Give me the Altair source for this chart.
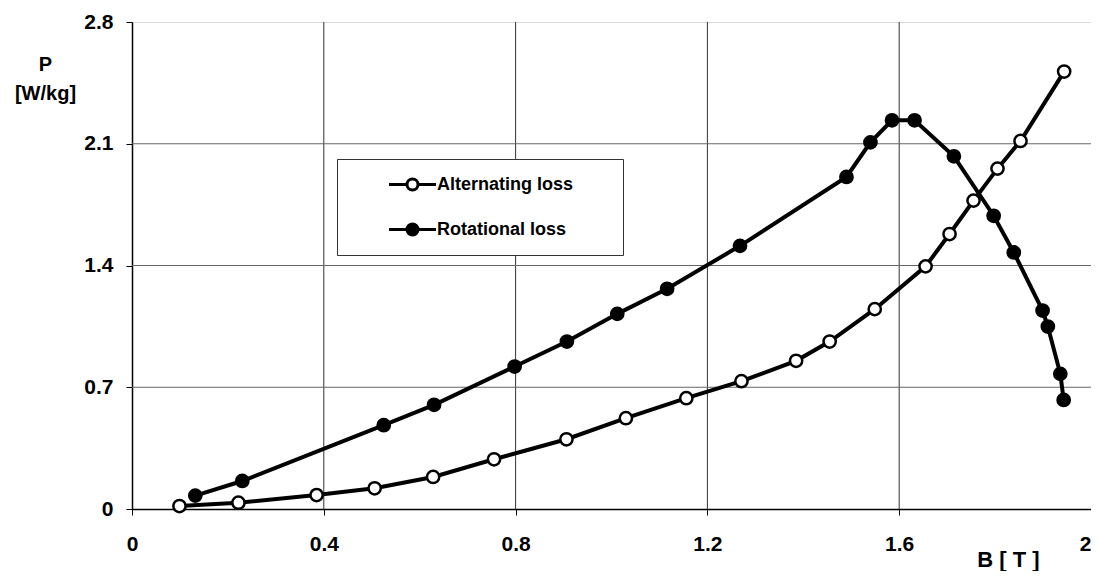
import altair as alt
import pandas as pd

# --- data ---
series_names = ["Alternating loss", "Rotational loss"]

alt_B = [0.099, 0.222, 0.385, 0.506, 0.628, 0.755, 0.906, 1.030, 1.156, 1.271,
         1.385, 1.455, 1.549, 1.655, 1.705, 1.755, 1.805, 1.853, 1.944]
alt_P = [0.017, 0.036, 0.080, 0.119, 0.184, 0.286, 0.401, 0.522, 0.637, 0.735,
         0.852, 0.963, 1.149, 1.395, 1.581, 1.773, 1.957, 2.116, 2.515]

rot_B = [0.132, 0.230, 0.525, 0.630, 0.798, 0.907, 1.012, 1.116, 1.268, 1.490,
         1.540, 1.585, 1.632, 1.714, 1.797, 1.839, 1.899, 1.910, 1.936, 1.943]
rot_P = [0.077, 0.161, 0.482, 0.599, 0.819, 0.963, 1.122, 1.266, 1.513, 1.909,
         2.108, 2.235, 2.235, 2.028, 1.686, 1.475, 1.141, 1.049, 0.777, 0.627]

x_ticks = [0, 0.4, 0.8, 1.2, 1.6, 2]
y_ticks = [0, 0.7, 1.4, 2.1, 2.8]
x_grid = [0.4, 0.8, 1.2, 1.6]
y_grid = [0.7, 1.4, 2.1]

df = pd.DataFrame({
    "series": [series_names[0]] * len(alt_B) + [series_names[1]] * len(rot_B),
    "B": alt_B + rot_B,
    "P": alt_P + rot_P,
})
gx = pd.DataFrame({"g": x_grid})
gy = pd.DataFrame({"g": y_grid})

FONT = "Liberation Sans"

xscale = alt.Scale(domain=[0, 2], nice=False, zero=False)
yscale = alt.Scale(domain=[0, 2.8], nice=False, zero=False)

x_axis = alt.Axis(values=x_ticks, format="~g", grid=False, title="B [ T ]",
                  labelFont=FONT, labelFontSize=21, labelFontWeight="bold",
                  labelColor="black", labelPadding=18, tickSize=6,
                  tickColor="black", domainColor="black", domainWidth=1.5,
                  labelFlush=False, labelOverlap=False,
                  labelAlign=alt.ExprRef("datum.value >= 2 ? 'right' : 'center'"),
                  titleFont=FONT, titleFontSize=22, titleFontWeight="bold",
                  titleColor="black", titleAnchor="start", titleAlign="center",
                  titleX=876, titleY=62, titleBaseline="bottom")
y_axis = alt.Axis(values=y_ticks, format="~g", grid=False, title=["P", "[W/kg]"],
                  labelFont=FONT, labelFontSize=21, labelFontWeight="bold",
                  labelColor="black", labelPadding=13, tickSize=6,
                  tickColor="black", domainColor="black", domainWidth=1.5,
                  labelFlush=False, labelOverlap=False,
                  titleFont=FONT, titleFontSize=20, titleFontWeight="bold",
                  titleColor="black", titleAngle=0, titleAlign="center",
                  titleX=-87, titleY=32, titleBaseline="top", titleLineHeight=29)

vgrid = alt.Chart(gx).mark_rule(color="#333", strokeWidth=1).encode(
    x=alt.X("g:Q", scale=xscale, axis=x_axis))
hgrid = alt.Chart(gy).mark_rule(color="#666", strokeWidth=1).encode(
    y=alt.Y("g:Q", scale=yscale, axis=y_axis))

lines = alt.Chart(df).mark_line(color="black", strokeWidth=4).encode(
    x=alt.X("B:Q", scale=xscale),
    y=alt.Y("P:Q", scale=yscale),
    detail="series:N",
)

legend_path = ("M-2.35,0H-0.55M-0.55,0A0.55,0.55,0,1,1,0.55,0"
               "A0.55,0.55,0,1,1,-0.55,0ZM0.55,0H2.35")

points = alt.Chart(df).mark_point(
    shape="circle", size=150, stroke="black", strokeWidth=2.5,
    filled=True, opacity=1).encode(
    x=alt.X("B:Q", scale=xscale),
    y=alt.Y("P:Q", scale=yscale),
    fill=alt.Fill("series:N",
                  scale=alt.Scale(domain=series_names, range=["white", "black"]),
                  legend=alt.Legend(
                      orient="none", legendX=205, legendY=137,
                      title="\u00a0", titleOrient="right", titlePadding=36,
                      titleFontSize=10,
                      padding=14, rowPadding=22,
                      symbolType=legend_path, symbolSize=400,
                      symbolStrokeColor="black", symbolStrokeWidth=3,
                      symbolOffset=50, labelOffset=13,
                      labelFont=FONT, labelFontSize=18, labelFontWeight="bold",
                      labelColor="black", labelLimit=400,
                      strokeColor="#333", fillColor="white")),
)

chart = alt.layer(vgrid, hgrid, lines, points).properties(
    width=959, height=487,
    autosize=alt.AutoSizeParams(type="none"),
    padding={"left": 124, "top": 14, "right": 0, "bottom": 62},
).configure_view(stroke=None).configure(background="white")

chart.save("out.html", embed_options={"renderer": "svg", "actions": False})
